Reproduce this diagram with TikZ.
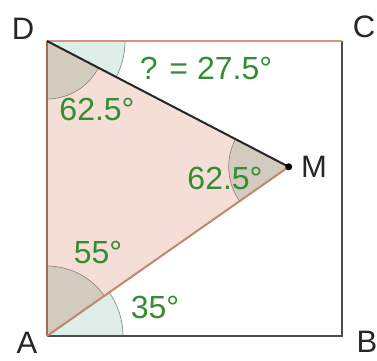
\documentclass[tikz,border=0pt]{standalone}
\usepackage{fontspec}
\setmainfont{Liberation Sans}
\begin{document}
\begin{tikzpicture}[x=1pt,y=1pt,
  edge/.style={line width=2pt},
  arcline/.style={draw=black!45,line width=0.7pt},
  lbl/.style={font=\fontsize{31}{31}\selectfont,text=black!85,inner sep=0pt},
  ang/.style={font=\fontsize{32}{32}\selectfont,text=angg,inner sep=0pt}]
\definecolor{angg}{RGB}{52,140,52}
\definecolor{tri}{RGB}{244,222,214}
\definecolor{graysec}{RGB}{205,200,186}
\definecolor{bluesec}{RGB}{222,238,232}
\definecolor{brownl}{RGB}{160,110,85}
\definecolor{salmon}{RGB}{212,150,122}
\useasboundingbox (0,0) rectangle (377,360);
\coordinate (A) at (47,24);
\coordinate (B) at (342,24);
\coordinate (C) at (342,319);
\coordinate (D) at (47,319);
\coordinate (M) at (288.7,193.2);
% triangle fill
\fill[tri] (D) -- (A) -- (M) -- cycle;
% angle sectors
\fill[graysec,opacity=0.85] (D) -- ++(270:58) arc[start angle=270,end angle=332.5,radius=58] -- cycle;
\fill[bluesec] (D) -- ++(332.5:78) arc[start angle=332.5,end angle=360,radius=78] -- cycle;
\fill[graysec,opacity=0.85] (A) -- ++(35:70) arc[start angle=35,end angle=90,radius=70] -- cycle;
\fill[bluesec] (A) -- ++(0:76) arc[start angle=0,end angle=35,radius=76] -- cycle;
\fill[graysec,opacity=0.85] (M) -- ++(152.5:60) arc[start angle=152.5,end angle=215,radius=60] -- cycle;
\draw[arcline] (D) ++(270:58) arc[start angle=270,end angle=332.5,radius=58];
\draw[arcline] (D) ++(332.5:78) arc[start angle=332.5,end angle=360,radius=78];
\draw[arcline] (A) ++(35:70) arc[start angle=35,end angle=90,radius=70];
\draw[arcline] (A) ++(0:76) arc[start angle=0,end angle=35,radius=76];
\draw[arcline] (M) ++(152.5:60) arc[start angle=152.5,end angle=215,radius=60];
% edges
\draw[edge,draw=black!70] (A) -- (B) -- (C);
\draw[edge,draw=salmon] (D) -- (C);
\draw[edge,draw=brownl] (D) -- (A);
\draw[edge,draw=salmon!90!black] (A) -- (M);
\draw[edge,draw=black!85] (D) -- (M);
\fill (M) circle (3.5);
% vertex labels
\node[lbl] (lD) at (23,331) {D};
\node[lbl] (lC) at (364,333) {C};
\node[lbl] (lA) at (27,17) {A};
\node[lbl] (lB) at (367,18) {B};
\node[lbl] (lM) at (314,193) {M};
% angle labels
\node[ang] (q) at (206,292) {? = 27.5°};
\node[ang] (d1) at (97,251) {62.5°};
\node[ang] (m1) at (225,182) {62.5°};
\node[ang] (a1) at (98,108) {55°};
\node[ang] (a2) at (155,53) {35°};
\end{tikzpicture}
\end{document}
